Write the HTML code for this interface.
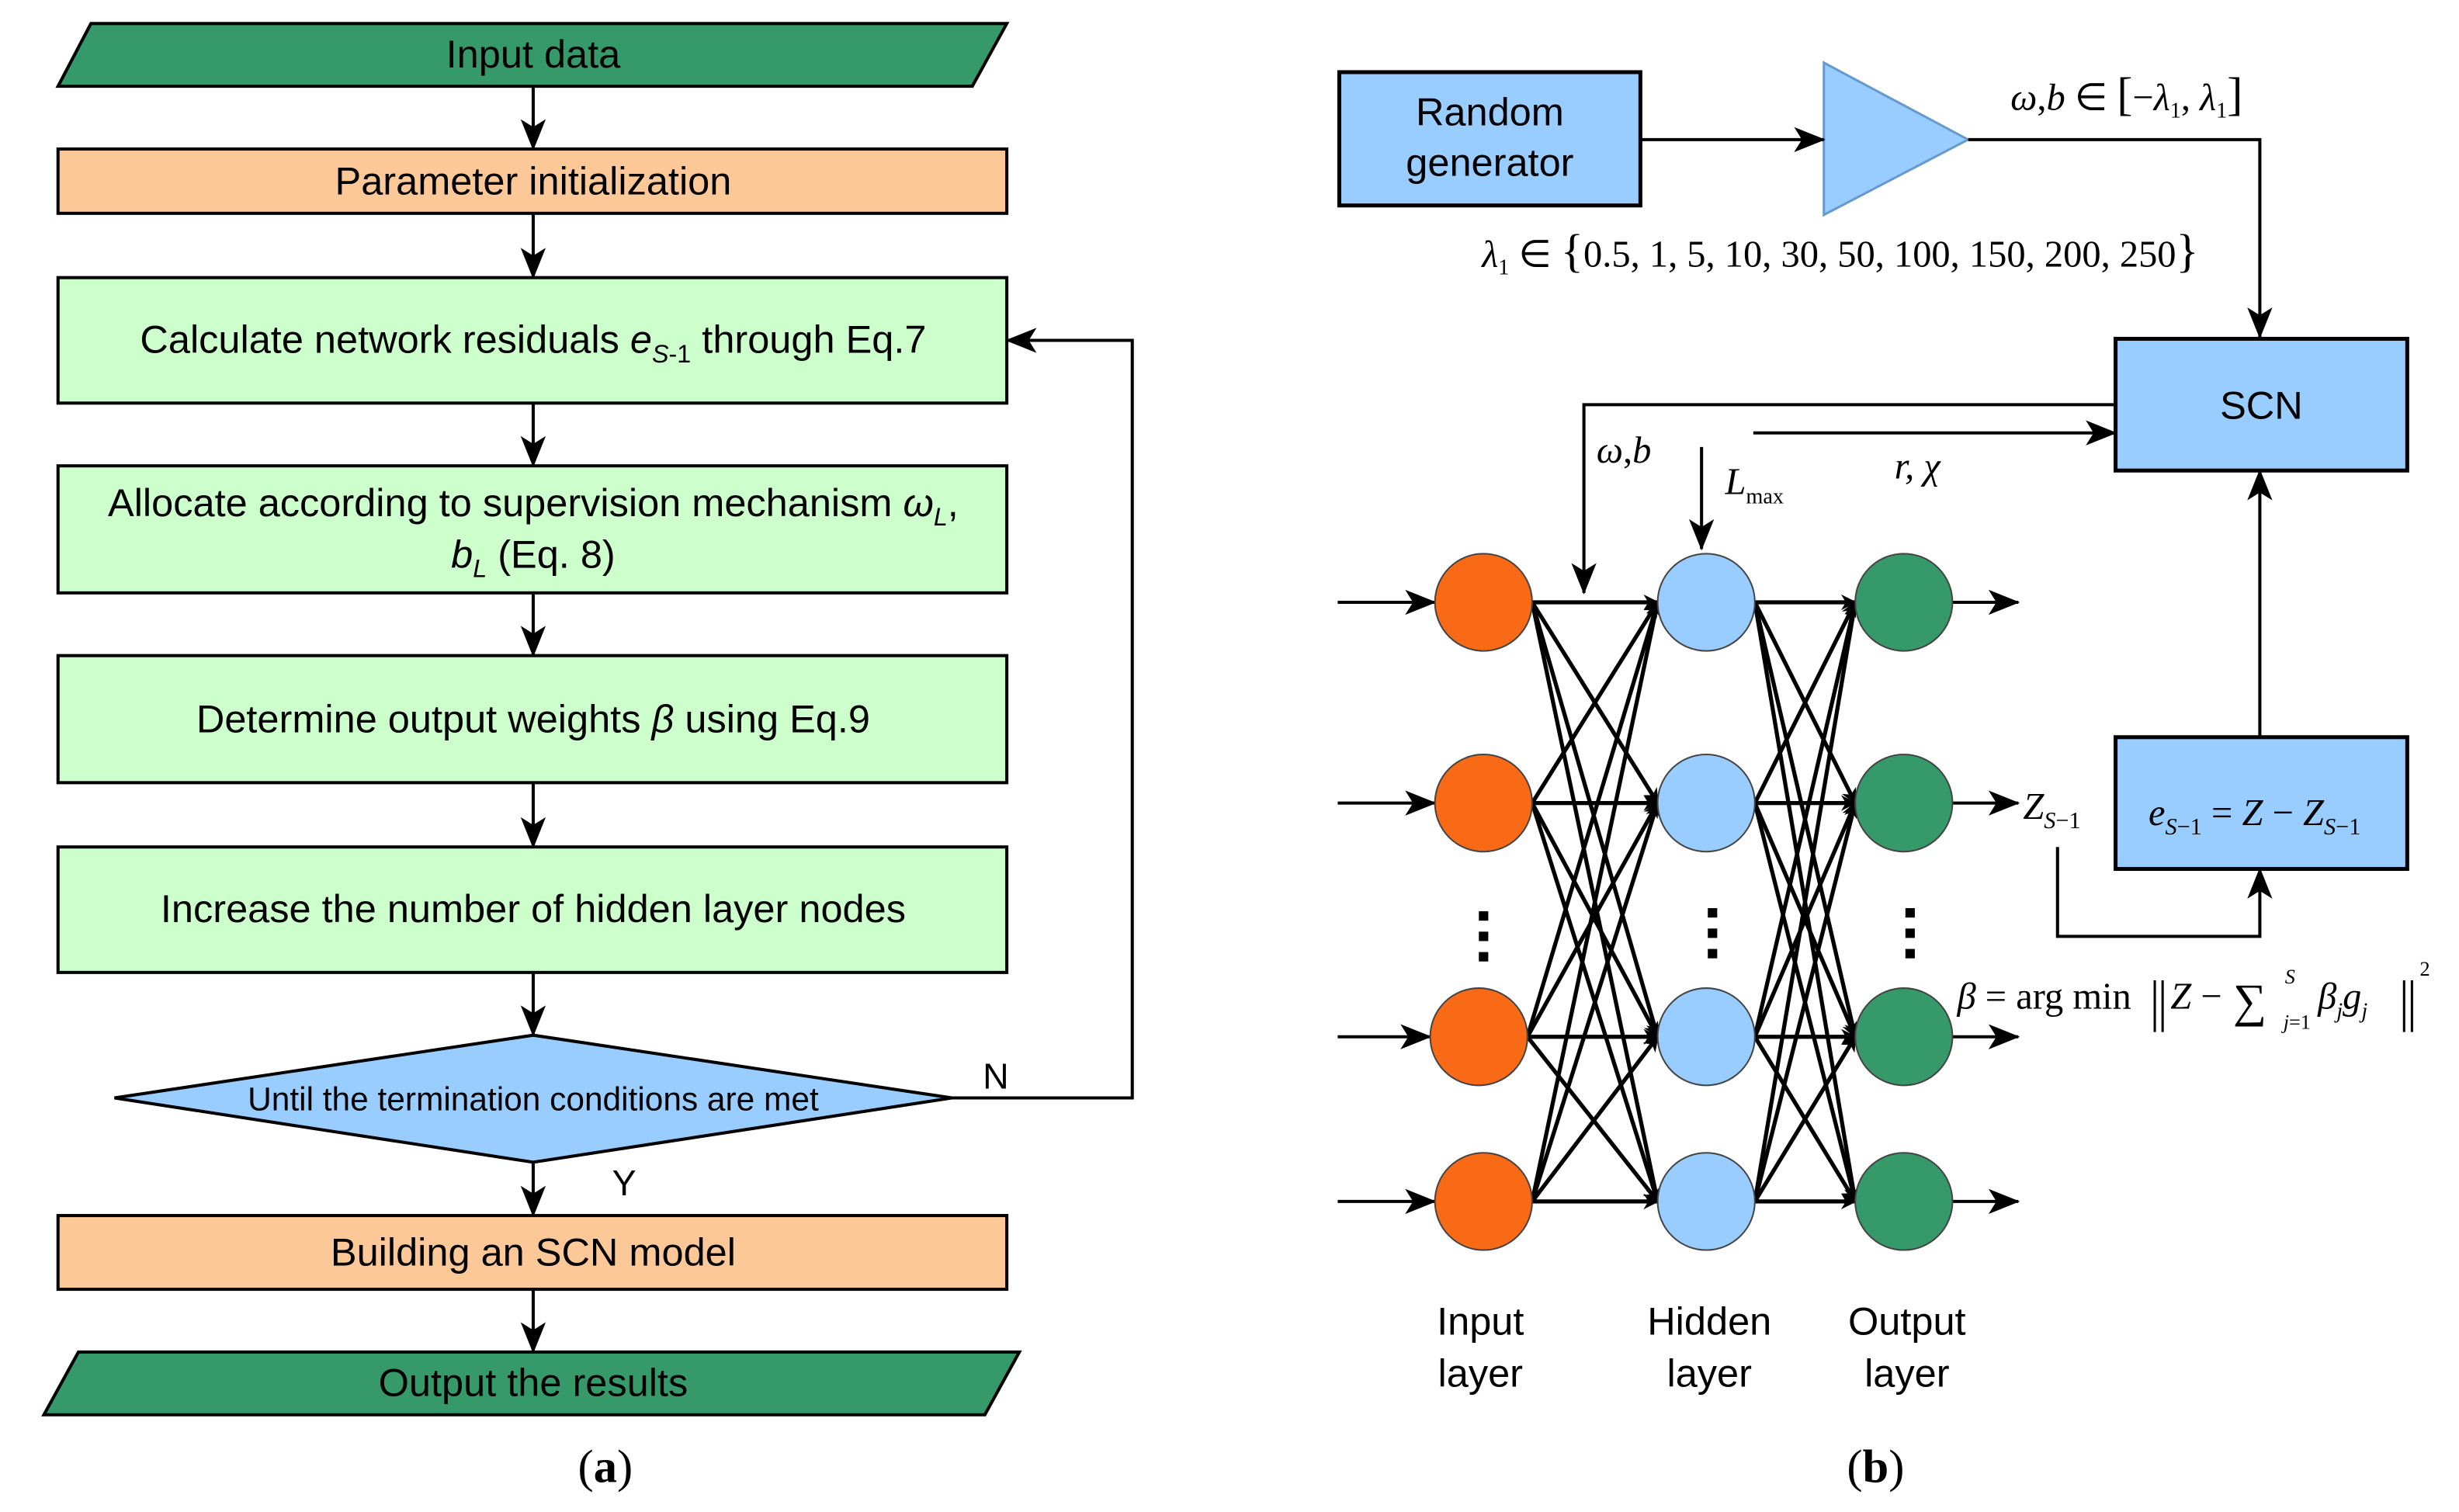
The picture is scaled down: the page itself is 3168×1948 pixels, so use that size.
<!DOCTYPE html>
<html><head><meta charset="utf-8"><style>
html,body{margin:0;padding:0;background:#fff}
svg{display:block}
.s{font-family:"Liberation Sans",sans-serif}
.m{font-family:"Liberation Serif",serif}
</style></head><body>
<svg width="3168" height="1948" viewBox="0 0 1568 964" preserveAspectRatio="none" xmlns="http://www.w3.org/2000/svg">
<defs>
<marker id="a" markerWidth="10" markerHeight="10" refX="9" refY="5" orient="auto" markerUnits="userSpaceOnUse">
<path d="M0,0 L10,5 L0,10 L3,5 z" fill="#000"/></marker>
<marker id="b" markerWidth="20" markerHeight="16" refX="19" refY="8" orient="auto" markerUnits="userSpaceOnUse">
<path d="M0,0 L20,8 L0,16 L5,8 z" fill="#000"/></marker>
</defs>
<g stroke="#000" stroke-width="2">
<polygon points="58,15 642,15 620,55 37,55" fill="#35996a"/>
<rect x="37" y="95" width="605" height="41" fill="#fdc898"/>
<rect x="37" y="177" width="605" height="80" fill="#ccffcc"/>
<rect x="37" y="297" width="605" height="81" fill="#ccffcc"/>
<rect x="37" y="418" width="605" height="81" fill="#ccffcc"/>
<rect x="37" y="540" width="605" height="80" fill="#ccffcc"/>
<polygon points="73,700 340,660 607,700 340,741" fill="#99ccff"/>
<rect x="37" y="775" width="605" height="47" fill="#fdc898"/>
<polygon points="50,862 650,862 628,902 28,902" fill="#35996a"/>
<g fill="none" marker-end="url(#b)">
<line x1="340" y1="55" x2="340" y2="95"/>
<line x1="340" y1="136" x2="340" y2="177"/>
<line x1="340" y1="257" x2="340" y2="297"/>
<line x1="340" y1="378" x2="340" y2="418"/>
<line x1="340" y1="499" x2="340" y2="540"/>
<line x1="340" y1="620" x2="340" y2="660"/>
<line x1="340" y1="741" x2="340" y2="775"/>
<line x1="340" y1="822" x2="340" y2="862"/>
<polyline points="607,700 722,700 722,217 642,217"/>
</g>
</g>
<g class="s" font-size="25" text-anchor="middle">
<text x="340" y="43">Input data</text>
<text x="340" y="124">Parameter initialization</text>
<text x="340" y="225">Calculate network residuals <tspan font-style="italic">e</tspan><tspan font-style="italic" font-size="16" dy="6">S</tspan><tspan font-size="16">-1</tspan><tspan dy="-6"> through Eq.7</tspan></text>
<text x="340" y="329">Allocate according to supervision mechanism <tspan font-style="italic">ω</tspan><tspan font-style="italic" font-size="16" dy="6">L</tspan><tspan dy="-6">,</tspan></text>
<text x="340" y="362"><tspan font-style="italic">b</tspan><tspan font-style="italic" font-size="16" dy="6">L</tspan><tspan dy="-6"> (Eq. 8)</tspan></text>
<text x="340" y="467">Determine output weights <tspan font-style="italic">β</tspan> using Eq.9</text>
<text x="340" y="588">Increase the number of hidden layer nodes</text>
<text x="340" y="708" font-size="21">Until the termination conditions are met</text>
<text x="635" y="694" font-size="23">N</text>
<text x="398" y="762" font-size="23">Y</text>
<text x="340" y="807">Building an SCN model</text>
<text x="340" y="890">Output the results</text>
</g>
<text x="386" y="945" class="m" font-size="30" text-anchor="middle">(<tspan font-weight="bold">a</tspan>)</text>
<text x="1196" y="945" class="m" font-size="30" text-anchor="middle">(<tspan font-weight="bold">b</tspan>)</text>

<g stroke="#000" stroke-width="2.5">
<rect x="854" y="46" width="192" height="85" fill="#99ccff"/>
<polygon points="1163,40 1163,137 1255,89" fill="#99ccff" stroke="#6699cc" stroke-width="1.5"/>
<rect x="1349" y="216" width="186" height="84" fill="#99ccff"/>
<rect x="1349" y="470" width="186" height="84" fill="#99ccff"/>
<g fill="none" stroke-width="2" marker-end="url(#b)">
<line x1="1046" y1="89" x2="1163" y2="89"/>
<polyline points="1255,89 1441,89 1441,215"/>
<polyline points="1349,258 1010,258 1010,378"/>
<line x1="1118" y1="276" x2="1349" y2="276"/>
<line x1="1085" y1="285" x2="1085" y2="350"/>
<line x1="1441" y1="470" x2="1441" y2="300"/>
<polyline points="1312,540 1312,597 1441,597 1441,554"/>
<line x1="853" y1="384" x2="915" y2="384"/>
<line x1="853" y1="512" x2="915" y2="512"/>
<line x1="853" y1="661" x2="912" y2="661"/>
<line x1="853" y1="766" x2="915" y2="766"/>
<line x1="1245" y1="384" x2="1287" y2="384"/>
<line x1="1245" y1="512" x2="1287" y2="512"/>
<line x1="1245" y1="661" x2="1287" y2="661"/>
<line x1="1245" y1="766" x2="1287" y2="766"/>
</g>
<g fill="none" stroke-width="2.6" marker-end="url(#a)">
<line x1="977" y1="384" x2="1057" y2="384"/><line x1="977" y1="384" x2="1057" y2="512"/><line x1="977" y1="384" x2="1057" y2="661"/><line x1="977" y1="384" x2="1057" y2="766"/>
<line x1="977" y1="512" x2="1057" y2="384"/><line x1="977" y1="512" x2="1057" y2="512"/><line x1="977" y1="512" x2="1057" y2="661"/><line x1="977" y1="512" x2="1057" y2="766"/>
<line x1="974" y1="661" x2="1057" y2="384"/><line x1="974" y1="661" x2="1057" y2="512"/><line x1="974" y1="661" x2="1057" y2="661"/><line x1="974" y1="661" x2="1057" y2="766"/>
<line x1="977" y1="766" x2="1057" y2="384"/><line x1="977" y1="766" x2="1057" y2="512"/><line x1="977" y1="766" x2="1057" y2="661"/><line x1="977" y1="766" x2="1057" y2="766"/>
<line x1="1119" y1="384" x2="1183" y2="384"/><line x1="1119" y1="384" x2="1183" y2="512"/><line x1="1119" y1="384" x2="1183" y2="661"/><line x1="1119" y1="384" x2="1183" y2="766"/>
<line x1="1119" y1="512" x2="1183" y2="384"/><line x1="1119" y1="512" x2="1183" y2="512"/><line x1="1119" y1="512" x2="1183" y2="661"/><line x1="1119" y1="512" x2="1183" y2="766"/>
<line x1="1119" y1="661" x2="1183" y2="384"/><line x1="1119" y1="661" x2="1183" y2="512"/><line x1="1119" y1="661" x2="1183" y2="661"/><line x1="1119" y1="661" x2="1183" y2="766"/>
<line x1="1119" y1="766" x2="1183" y2="384"/><line x1="1119" y1="766" x2="1183" y2="512"/><line x1="1119" y1="766" x2="1183" y2="661"/><line x1="1119" y1="766" x2="1183" y2="766"/>
</g>
<g stroke-width="1" stroke="#444">
<circle cx="946" cy="384" r="31" fill="#f96a16"/><circle cx="946" cy="512" r="31" fill="#f96a16"/>
<circle cx="943" cy="661" r="31" fill="#f96a16"/><circle cx="946" cy="766" r="31" fill="#f96a16"/>
<circle cx="1088" cy="384" r="31" fill="#99ccff"/><circle cx="1088" cy="512" r="31" fill="#99ccff"/>
<circle cx="1088" cy="661" r="31" fill="#99ccff"/><circle cx="1088" cy="766" r="31" fill="#99ccff"/>
<circle cx="1214" cy="384" r="31" fill="#35996a"/><circle cx="1214" cy="512" r="31" fill="#35996a"/>
<circle cx="1214" cy="661" r="31" fill="#35996a"/><circle cx="1214" cy="766" r="31" fill="#35996a"/>
</g>
<g fill="none" stroke-width="1.5">
<line x1="1374" y1="625" x2="1374" y2="658"/><line x1="1379" y1="625" x2="1379" y2="658"/>
<line x1="1533" y1="625" x2="1533" y2="658"/><line x1="1538" y1="625" x2="1538" y2="658"/>
</g>
</g>
<g fill="#000">
<rect x="943" y="581" width="6" height="6"/><rect x="943" y="594" width="6" height="6"/><rect x="943" y="607" width="6" height="6"/>
<rect x="1089" y="579" width="6" height="6"/><rect x="1089" y="592" width="6" height="6"/><rect x="1089" y="605" width="6" height="6"/>
<rect x="1215" y="579" width="6" height="6"/><rect x="1215" y="592" width="6" height="6"/><rect x="1215" y="605" width="6" height="6"/>
</g>
<g class="s" font-size="25" text-anchor="middle">
<text x="950" y="80">Random</text><text x="950" y="112">generator</text>
<text x="1442" y="267">SCN</text>
<text x="944" y="851">Input</text><text x="944" y="884">layer</text>
<text x="1090" y="851">Hidden</text><text x="1090" y="884">layer</text>
<text x="1216" y="851">Output</text><text x="1216" y="884">layer</text>
</g>
<g class="m" font-size="24">
<text x="1282" y="70"><tspan font-style="italic">ω</tspan>,<tspan font-style="italic">b</tspan> ∈ <tspan font-size="30">[</tspan>−<tspan font-style="italic">λ</tspan><tspan font-size="14" dy="5">1</tspan><tspan dy="-5">, </tspan><tspan font-style="italic">λ</tspan><tspan font-size="14" dy="5">1</tspan><tspan dy="-5" font-size="30">]</tspan></text>
<text x="945" y="170"><tspan font-style="italic">λ</tspan><tspan font-size="14" dy="5">1</tspan><tspan dy="-5"> ∈ </tspan><tspan font-size="30">{</tspan>0.5, 1, 5, 10, 30, 50, 100, 150, 200, 250<tspan font-size="30">}</tspan></text>
<text x="1018" y="295"><tspan font-style="italic">ω</tspan>,<tspan font-style="italic">b</tspan></text>
<text x="1100" y="315" font-style="italic">L<tspan font-size="14" font-style="normal" dy="6">max</tspan></text>
<text x="1208" y="305" font-style="italic">r, χ</text>
<text x="1290" y="522" font-style="italic">Z<tspan font-size="15" dy="6">S</tspan><tspan font-size="15" font-style="normal">−1</tspan></text>
<text x="1370" y="526"><tspan font-style="italic">e</tspan><tspan font-size="15" font-style="italic" dy="6">S</tspan><tspan font-size="15">−1</tspan><tspan dy="-6"> = </tspan><tspan font-style="italic">Z</tspan> − <tspan font-style="italic">Z</tspan><tspan font-size="15" font-style="italic" dy="6">S</tspan><tspan font-size="15">−1</tspan></text>
<text x="1248" y="643"><tspan font-style="italic">β</tspan> = arg min</text>
<text x="1384" y="643"><tspan font-style="italic">Z</tspan> −</text>
<text x="1424" y="648" font-size="30">∑</text>
<text x="1457" y="627" font-size="13" font-style="italic">S</text>
<text x="1456" y="656" font-size="13"><tspan font-style="italic">j</tspan>=1</text>
<text x="1478" y="643" font-style="italic">β<tspan font-size="14" dy="6">j</tspan><tspan dy="-6">g</tspan><tspan font-size="14" dy="6">j</tspan></text>
<text x="1543" y="622" font-size="13">2</text>
</g>
</svg>
</body></html>
